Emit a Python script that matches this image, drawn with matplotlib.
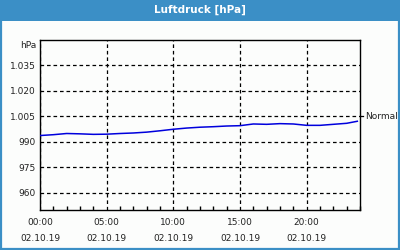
import numpy as np
import matplotlib.pyplot as plt
from matplotlib.patches import Rectangle
from matplotlib.ticker import FuncFormatter, MultipleLocator

# hourly readings (hours since 00:00 on 02.10.19)
hours = [0, 1, 2, 3, 4, 5, 6, 7, 8, 9, 10, 11, 12, 13, 14, 15, 16, 17, 18, 19,
         20, 21, 22, 23, 23.8]
pressure = [993.8, 994.3, 995.0, 994.8, 994.5, 994.6, 995.0, 995.3, 995.8, 996.6,
            997.5, 998.2, 998.7, 999.0, 999.4, 999.6, 1000.6, 1000.4, 1000.8, 1000.6,
            999.8, 999.8, 1000.4, 1001.0, 1002.2]

xticks = [0, 5, 10, 15, 20]
xlabels = ["00:00\n02.10.19", "05:00\n02.10.19", "10:00\n02.10.19",
           "15:00\n02.10.19", "20:00\n02.10.19"]
yticks = [960, 975, 990, 1005, 1020, 1035]
normal = 1005

blue = "#3b8fc6"
txt = "#222222"
dash = (0, (2.9, 2.3))

fig = plt.figure(figsize=(4, 2.5), dpi=100, facecolor="#fcfdfc")

# title bar + frame
fig.patches.append(Rectangle((0, 1 - 21 / 250), 1, 21 / 250, transform=fig.transFigure,
                             facecolor=blue, edgecolor="none", zorder=0))
fig.patches.append(Rectangle((0.002, 0.004), 0.996, 0.99, transform=fig.transFigure,
                             facecolor="none", edgecolor=blue, lw=1.6, zorder=0))
fig.text(0.5, 1 - 10 / 250, "Luftdruck [hPa]", color="white", fontsize=7.5,
         fontweight="bold", ha="center", va="center")

ax = fig.add_axes([0.1, 0.16, 0.8, 0.68])
ax.set_facecolor("#fcfdfc")
ax.plot(hours, pressure, color="#0000dd", lw=1.1, zorder=3)

ax.set_xlim(0, 24)
ax.set_ylim(950, 1050)
ax.set_xticks(xticks)
ax.set_xticklabels(xlabels, fontsize=6.5, color=txt, linespacing=1.9)
ax.xaxis.set_minor_locator(MultipleLocator(1))
ax.set_yticks(yticks)
ax.yaxis.set_major_formatter(FuncFormatter(lambda v, p: f"{v:,.0f}".replace(",", ".")))
ax.tick_params(axis="y", length=0, pad=3, labelsize=6.5, labelcolor=txt)
ax.tick_params(axis="x", which="major", length=0, pad=6)
ax.tick_params(axis="x", which="minor", direction="in", length=3, width=1, color="black")

ax.grid(True, color="black", linestyle=dash, lw=0.9)
for s in ax.spines.values():
    s.set_color("black")
    s.set_linewidth(1)

# "Normal" marker extending past the right spine
ax.plot([1.0, 1.015], [normal, normal], transform=ax.get_yaxis_transform(),
        color="black", lw=0.9, linestyle=dash, clip_on=False)
ax.text(1.015, normal, "Normal", transform=ax.get_yaxis_transform(), fontsize=6.5,
        color=txt, va="center", ha="left")
ax.text(-0.01, 0.965, "hPa", transform=ax.transAxes, fontsize=6.5, color=txt,
        ha="right", va="center")

fig.savefig("out.png", dpi=100, facecolor=fig.get_facecolor())
